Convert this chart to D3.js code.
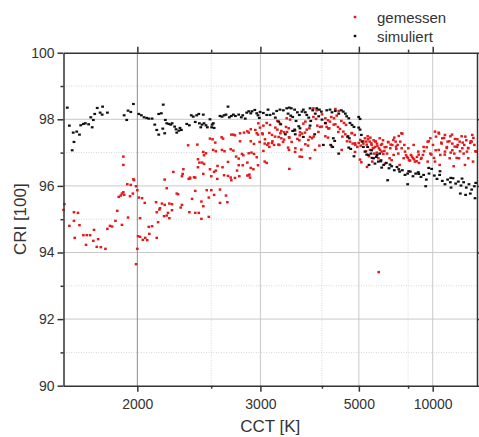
<!DOCTYPE html>
<html>
<head>
<meta charset="utf-8">
<script src="https://d3js.org/d3.v7.min.js"></script>
<style>
  body { margin: 0; background: #fff; }
  svg text { font-family: "Liberation Sans", Arial, sans-serif; fill: #333; }
  .grid-major { stroke: #c9c9c9; stroke-width: 1; }
  .grid-minor { stroke: #d6d6d6; stroke-width: 1; stroke-dasharray: 1,1.5; }
  .axis path, .axis line { stroke: #333; stroke-width: 1.5; }
</style>
</head>
<body>
<div id="chart"></div>
<script>
// x axis is reciprocal (mired) CCT scale
var xTicks = [2000, 3000, 5000, 10000];
var xMinor = [2500, 4000, 7500];
var yTicks = [90, 92, 94, 96, 98, 100];
var yMinor = [91, 93, 95, 97, 99];
var seriesNames = ["gemessen", "simuliert"];

// [CCT K, CRI]
var gemessen = [
 [1670,95.45],[1667,95.28],[1689,94.80],[1707,94.95],[1729,94.82],[1710,94.44],[1745,94.52],[1759,94.52],[1773,94.52],[1756,94.23],
 [1790,94.68],[1787,94.35],[1808,94.40],[1802,94.17],[1820,94.16],[1841,94.11],[1850,94.71],[1862,94.80],[1872,94.78],[1888,94.95],
 [1920,94.83],[1707,95.21],[1723,95.19],[1951,95.05],[1897,95.25],[1904,95.67],[1914,95.71],[1920,95.77],[1927,95.81],[1931,95.73],
 [1947,96.05],[1965,96.03],[1961,95.69],[1976,95.77],[1982,96.17],[1993,95.99],[2000,95.87],[2008,95.65],[2026,95.63],[2041,95.49],
 [2015,95.03],[2004,94.49],[2015,94.47],[2044,94.44],[2055,94.37],[2030,94.38],[2000,94.11],[1993,93.65],[2067,94.56],[2064,94.77],
 [2083,94.79],[2111,94.44],[2119,94.91],[2111,95.21],[2127,95.29],[2107,95.51],[1927,96.88],[1927,96.63],[1979,96.20],
 [2160,96.19],[2275,96.29],[2323,96.21],[2333,96.25],[2372,96.25],[2553,96.21],[2677,96.25],[2683,96.17],[2763,96.29],[2849,96.31],
 [2879,96.25],[2501,96.29],[2173,95.93],[2239,95.77],[2248,95.75],[2372,95.85],[2463,95.87],[2501,95.87],[2577,95.89],[2525,95.73],
 [2480,95.65],[2632,95.71],[2348,95.61],[2420,95.53],[2577,95.49],[2645,95.51],[2143,95.47],[2160,95.43],[2190,95.47],[2207,95.45],
 [2131,95.33],[2275,95.43],[2266,95.35],[2435,95.39],[2207,95.27],[2181,95.19],[2173,95.11],[2156,95.09],[2190,95.03],[2328,95.21],
 [2372,95.19],[2399,95.19],[2480,95.07],[2420,95.01],
 [2490,97.42],[2512,97.40],[2592,97.46],[2605,97.42],[2683,97.54],[2703,97.54],[2719,97.52],[2771,97.58],[2813,97.60],[2849,97.64],
 [2864,97.60],[2887,97.70],[2939,97.68],[2956,97.58],[2971,97.54],[2388,97.24],[2319,97.22],[2535,97.30],[2771,97.34],[2887,97.34],
 [2924,97.26],[2435,97.02],[2457,96.98],[2517,97.08],[2540,97.04],[2595,97.08],[2618,97.04],[2677,97.10],[2703,97.06],[2864,96.98],
 [2895,97.00],[2924,96.96],[2791,96.96],[2805,96.92],[2731,96.88],[2757,96.82],[2956,96.86],[2441,96.92],[2393,96.80],[2404,96.70],
 [2425,96.70],[2441,96.66],[2651,96.72],[2555,96.60],[2600,96.56],[2757,96.62],[2799,96.62],[2849,96.70],[2887,96.54],[2917,96.50],
 [2971,96.62],[2393,96.56],[2490,96.50],[2740,96.46],[2216,96.42],[2285,96.50],[2280,96.36],[2435,96.36],[2525,96.42],[2540,96.46],
 [2614,96.32],[2651,96.30],[2719,96.24],[2864,96.32],[2872,96.34],[2333,96.22],[2363,96.26],
 [2995,97.75],[3037,97.81],[3079,97.89],[3122,97.83],[3028,97.55],[3113,97.59],[3149,97.53],[3053,97.27],[3087,97.23],[3113,97.17],
 [3149,97.29],[3176,97.23],[3037,97.05],[3053,96.73],[3079,96.69],[3222,97.95],[3259,97.87],[3194,97.75],[3222,97.69],[3240,97.47],
 [3279,97.43],[3319,97.39],[3250,97.23],[3279,97.65],[3319,97.61],[3359,98.03],[3411,97.99],[3349,97.77],[3390,97.73],[3400,97.45],
 [3380,97.15],[3497,97.13],[3530,97.41],[3564,97.37],[3575,97.61],[3610,97.57],[3598,97.09],[3610,96.87],[3758,96.83],[3670,97.25],
 [3720,97.21],[3758,97.47],[3797,97.43],[3695,97.69],[3745,97.73],[3634,97.87],[3670,97.93],[3823,98.07],[3876,98.01],[3903,97.81],
 [3959,97.77],[3945,97.21],[4075,98.03],[4136,97.97],[4182,97.93],[4105,97.77],[4167,97.73],[4214,98.07],[4281,98.03],[4348,98.11],
 [4314,97.85],[4382,97.77],[4470,97.95],[4543,97.89],[4600,97.83],[4435,97.71],[4525,97.63],[4581,97.55],[4638,97.47],[4778,97.59],
 [4864,97.53],[4717,97.33],[4798,97.27],[4885,97.23],[4950,97.17],[4995,97.29],[5063,97.21],[5157,97.27],[5040,96.79],[5086,96.71],
 [3400,96.51],[4075,97.49],[4136,97.45],[3823,98.33],[3890,98.27],[4314,98.31],[4399,98.25],[4002,98.15],
 [2975,97.88],[3024,97.58],[2991,97.32],[3057,97.40],[3101,97.28],[3154,97.34],[3190,97.48],[3265,97.58],[3236,97.24],[3304,97.32],
 [3364,97.62],[3394,97.46],[3436,97.32],[3492,97.66],[3570,97.52],[3664,97.60],[3726,97.38],[3828,97.48],[3925,97.62],[3995,97.78],
 [4083,97.88],[4144,97.72],[4272,97.84],[4390,97.62],[4498,97.48],[4630,97.34],[4769,97.58],[4873,97.28],[5051,97.38],[3394,97.08],
 [3492,97.02],[3570,96.88],[3855,97.08],[4223,97.18],[4480,97.08],[4873,97.02],
 [5216,97.43],[5316,97.49],[5394,97.33],[5473,97.23],[5556,97.37],[5612,97.17],[5700,97.27],[5790,97.13],[5882,97.23],[5977,97.37],
 [6042,97.05],[6143,97.17],[6246,97.31],[6353,97.13],[6464,97.23],[6579,97.45],[6698,97.11],[6821,96.97],[6949,97.33],[7087,97.57],
 [7225,97.23],[5291,96.57],[5501,96.73],[5760,96.83],[6075,96.67],[6427,96.77],[6906,96.63],[7273,97.03],[7418,96.87],[7570,96.77],
 [7728,96.93],[7893,96.83],[8065,96.73],[8244,96.87],[8432,96.69],[8628,96.81],[8834,96.93],[7519,97.13],[7949,97.23],[8368,97.03],
 [8905,97.17],[9363,97.33],[9690,97.43],[10040,97.23],[10320,97.63],[10929,97.57],[11494,97.43],[11990,97.53],[12531,97.33],[13141,97.49],
 [13624,97.27],[14327,97.41],[14903,97.17],[15748,97.33],[16447,97.49],[17483,97.23],[18349,97.37],[19305,97.13],[20367,97.29],[21552,97.53],
 [22936,97.23],[24450,97.03],[10417,97.07],[11148,96.93],[11990,97.03],[12987,96.83],[14144,96.97],[15528,96.83],[17212,96.97],[19305,96.83],
 [22026,96.73],[11377,97.27],[12392,97.17],[13624,97.07],[15106,97.23],[16694,97.13],[18657,97.03],[21186,97.33],[10320,96.73],[11038,96.63],
 [13966,96.59],[17762,96.63],[9690,96.97],[9363,96.73],
 [5266,97.33],[5420,97.45],[5528,97.13],[5640,97.33],[5821,97.43],[5914,97.03],[6177,96.97],[6317,96.83],[6540,96.93],[6658,97.33],
 [6780,97.23],[7042,97.13],[7179,96.83],[5368,96.89],[5583,96.97],
 [5157,97.34],[5280,97.24],[5331,97.40],[5462,97.28],[5546,97.14],[5631,97.34],[5718,97.20],[5838,97.08],[5931,97.26],[6061,97.16],
 [6231,97.32],[6373,97.24],[6523,97.38],[6684,97.18],[6849,97.50],[7022,97.58],[5255,97.04],[5408,97.08],[5688,97.00],[5995,96.96],
 [7348,96.92],[7496,96.84],[7651,96.76],[7813,96.88],[7981,96.80],[8217,96.74],[8410,96.94],[8673,96.84],[8953,97.04],[9251,97.16],
 [9488,97.34],[9823,96.94],[10183,96.84],[10471,97.48],[10881,97.60],[11325,97.30],[11820,97.44],[12346,97.14],[12920,97.34],[13550,97.54],
 [14245,97.18],[15015,97.40],[15873,97.04],[16835,97.30],[17921,97.48],[19194,97.14],[20619,97.34],[22272,97.44],[23697,97.04],[10881,97.08],
 [11947,96.94],[13228,97.00],[14815,96.84],
 [5777,93.41]
];

var simuliert = [
 [1681,98.35],[1689,97.81],[1704,97.60],[1718,97.63],[1729,97.54],[1707,97.32],[1700,97.07],[1734,97.82],[1745,97.86],[1753,97.88],
 [1767,97.85],[1782,97.76],[1776,98.06],[1787,97.98],[1793,98.16],[1804,98.34],[1817,98.20],[1826,98.14],[1828,98.38],[1850,98.20],
 [1931,98.12],[1944,97.98],[1951,98.26],[1965,98.22],[1979,98.46],[2008,98.16],[2022,98.12],[2037,98.06],[2052,98.04],[2064,98.02],
 [2083,98.02],[2099,97.84],[2111,97.68],[2123,97.54],[2123,98.16],
 [2151,98.44],[2139,98.18],[2148,97.72],[2160,97.58],[2173,97.88],[2186,97.86],[2199,97.84],[2208,97.88],[2164,97.98],[2225,97.78],
 [2239,97.60],[2234,97.70],[2253,97.66],[2271,97.68],[2261,97.74],[2309,97.86],[2328,97.82],[2342,98.12],[2357,98.08],[2383,98.12],
 [2399,98.16],[2435,98.14],[2372,97.92],[2404,97.88],[2425,97.84],[2441,97.88],[2457,97.82],[2468,97.76],[2415,97.76],[2490,98.00],
 [2508,97.84],[2518,97.88],[2504,97.76],[2525,97.74],[2577,98.10],[2595,98.08],[2614,98.12],[2632,98.14],[2651,98.38],[2664,98.06],
 [2683,98.10],[2703,98.14],[2723,98.10],[2757,98.14],[2784,98.06],[2799,98.12],[2826,98.02],[2842,98.20],[2864,98.24],[2887,98.18],
 [2901,98.24],[2933,98.28],[2956,98.18],[2971,98.12],[2987,98.04],[2996,98.22],
 [3036,98.19],[3079,98.13],[3096,98.29],[3122,98.13],[3167,98.17],[3213,98.25],[3259,98.29],[3194,98.05],[3241,97.93],[3270,97.85],
 [3308,98.27],[3359,98.33],[3399,98.35],[3431,98.33],[3380,98.17],[3421,98.11],[3453,98.07],[3485,98.29],[3530,98.21],[3564,98.13],
 [3610,98.23],[3508,97.95],[3554,97.79],[3575,97.73],[3634,98.29],[3670,98.21],[3696,98.13],[3733,98.05],[3758,98.33],[3810,98.27],
 [3861,98.17],[3771,97.95],[3758,97.81],[3890,98.33],[3945,98.29],[3987,98.23],[3931,98.09],[4002,97.99],[4075,97.89],[4107,98.27],
 [4182,98.29],[4230,98.21],[4312,98.25],[4400,98.17],[4468,98.27],[4523,98.23],[4581,98.17],[4619,98.09],[4680,98.03],[4717,97.89],
 [4778,97.83],[4840,97.77],[4995,98.07],[5040,98.01],[4995,97.75],[5040,97.69],[4658,97.49],[4697,97.43],[4680,97.15],[4739,97.11],
 [4263,97.43],[4297,97.35],[4200,97.23],[4248,97.17],[4400,96.97],[4031,97.23],[3849,97.55],[3634,97.47],[3495,97.55],[3338,97.55],
 [3453,97.65],[3485,97.69],[4840,96.89],[5086,97.53],[5109,97.33],[5157,97.17],
 [5216,97.03],[5342,96.93],[5447,96.97],[5556,96.83],[5671,96.87],[5760,96.73],[5882,96.77],[6010,96.63],[6143,96.69],[6281,96.53],
 [6427,96.59],[6579,96.47],[6739,96.57],[6906,96.43],[7087,96.47],[7273,96.33],[7468,96.37],[7675,96.43],[7893,96.29],[8124,96.37],
 [8368,96.41],[8628,96.27],[8905,96.33],[9208,96.19],[9524,96.37],[9862,96.51],[10225,96.31],[10616,96.21],[11038,96.33],[11494,96.15],
 [11990,96.05],[12531,96.19],[13141,96.11],[13793,96.23],[14514,96.07],[15314,96.13],[16207,96.01],[17212,96.11],[18349,95.95],[19646,96.05],
 [21186,95.89],[22936,95.99],[24000,96.09],[18051,95.73],[20367,95.77],[23419,95.63],[6211,96.17],[7468,96.05],[9132,95.99],[13298,95.95],
 [15974,95.77],[5368,96.63],[5612,96.67],[5914,96.55],[5316,97.17],[5473,97.07],[5700,96.93],[5821,96.97],
 [5280,96.94],[5489,96.84],[5869,96.74],[6337,96.64],[6849,96.50],[7547,96.44],[8410,96.36],[9488,96.54],[11099,96.44],[13228,96.24],
 [16584,96.22]
];

var svg = d3.select("#chart").append("svg")
    .attr("width", 479)
    .attr("height", 437);

var pLeft = 63.5, pRight = 477, pTop = 52.7, pBottom = 385.7;

// exponent -1 gives a reciprocal (mired) axis
var x = d3.scalePow().exponent(-1)
    .domain([1e6 / 600, 1e6 / 40])
    .range([pLeft, pRight]);
var y = d3.scaleLinear().domain([90, 100]).range([pBottom, pTop]);

// grid
svg.selectAll(".gy-minor").data(yMinor).enter().append("line")
    .attr("class", "grid-minor")
    .attr("x1", pLeft).attr("x2", pRight)
    .attr("y1", function(d) { return y(d); }).attr("y2", function(d) { return y(d); });
svg.selectAll(".gx-minor").data(xMinor).enter().append("line")
    .attr("class", "grid-minor")
    .attr("y1", pTop).attr("y2", pBottom)
    .attr("x1", function(d) { return x(d); }).attr("x2", function(d) { return x(d); });
svg.selectAll(".gy-major").data(yTicks.slice(1, -1)).enter().append("line")
    .attr("class", "grid-major")
    .attr("x1", pLeft).attr("x2", pRight)
    .attr("y1", function(d) { return y(d); }).attr("y2", function(d) { return y(d); });
svg.selectAll(".gx-major").data(xTicks).enter().append("line")
    .attr("class", "grid-major")
    .attr("y1", pTop).attr("y2", pBottom)
    .attr("x1", function(d) { return x(d); }).attr("x2", function(d) { return x(d); })
    .style("stroke", function(d) { return d === 2000 ? "#8c8c8c" : null; });

// points
svg.append("g").selectAll("rect").data(gemessen).enter().append("rect")
    .attr("x", function(d) { return x(d[0]) - 1.3; })
    .attr("y", function(d) { return y(d[1]) - 1.2; })
    .attr("width", 2.6).attr("height", 2.4)
    .attr("fill", "#e31a1c");
svg.append("g").selectAll("rect").data(simuliert).enter().append("rect")
    .attr("x", function(d) { return x(d[0]) - 1.4; })
    .attr("y", function(d) { return y(d[1]) - 1.1; })
    .attr("width", 2.8).attr("height", 2.2)
    .attr("fill", "#111");

// axes
var fmt = function(d) { return d; };
svg.append("g").attr("class", "axis")
    .attr("transform", "translate(0," + pBottom + ")")
    .call(d3.axisBottom(x).tickValues(xTicks).tickFormat(fmt).tickSize(6).tickSizeOuter(0))
    .call(function(g) { g.selectAll("text").attr("font-size", 14).attr("dy", "1.05em"); });
svg.append("g").attr("class", "axis")
    .attr("transform", "translate(0," + pBottom + ")")
    .call(d3.axisBottom(x).tickValues(xMinor).tickFormat("").tickSize(3).tickSizeOuter(0))
    .select(".domain").remove();
svg.append("g").attr("class", "axis")
    .attr("transform", "translate(0," + pTop + ")")
    .call(d3.axisTop(x).tickValues(xTicks).tickFormat("").tickSize(6).tickSizeOuter(0));
svg.append("g").attr("class", "axis")
    .attr("transform", "translate(0," + pTop + ")")
    .call(d3.axisTop(x).tickValues(xMinor).tickFormat("").tickSize(3).tickSizeOuter(0))
    .select(".domain").remove();

svg.append("g").attr("class", "axis")
    .attr("transform", "translate(" + pLeft + ",0)")
    .call(d3.axisLeft(y).tickValues(yTicks).tickFormat(fmt).tickSize(6).tickSizeOuter(0))
    .call(function(g) { g.selectAll("text").attr("font-size", 14); });
svg.append("g").attr("class", "axis")
    .attr("transform", "translate(" + pLeft + ",0)")
    .call(d3.axisLeft(y).tickValues(yMinor).tickFormat("").tickSize(3).tickSizeOuter(0))
    .select(".domain").remove();
svg.append("g").attr("class", "axis")
    .attr("transform", "translate(" + pRight + ",0)")
    .call(d3.axisRight(y).tickValues(yTicks).tickFormat("").tickSize(6).tickSizeOuter(0));

// axis titles
svg.append("text")
    .attr("x", (pLeft + pRight) / 2).attr("y", 432)
    .attr("text-anchor", "middle").attr("font-size", 17)
    .text("CCT [K]");
svg.append("text")
    .attr("transform", "translate(26," + ((pTop + pBottom) / 2) + ") rotate(-90)")
    .attr("text-anchor", "middle").attr("font-size", 17)
    .text("CRI [100]");

// legend
var legColors = ["#e31a1c", "#111"];
var leg = svg.selectAll(".leg").data(seriesNames).enter().append("g")
    .attr("transform", function(d, i) { return "translate(355," + (17 + i * 19) + ")"; });
leg.append("rect")
    .attr("x", -1.3).attr("y", -1.2).attr("width", 2.6).attr("height", 2.4)
    .attr("fill", function(d, i) { return legColors[i]; });
leg.append("text")
    .attr("x", 22).attr("y", 5.5).attr("font-size", 15)
    .text(function(d) { return d; });
</script>
</body>
</html>
